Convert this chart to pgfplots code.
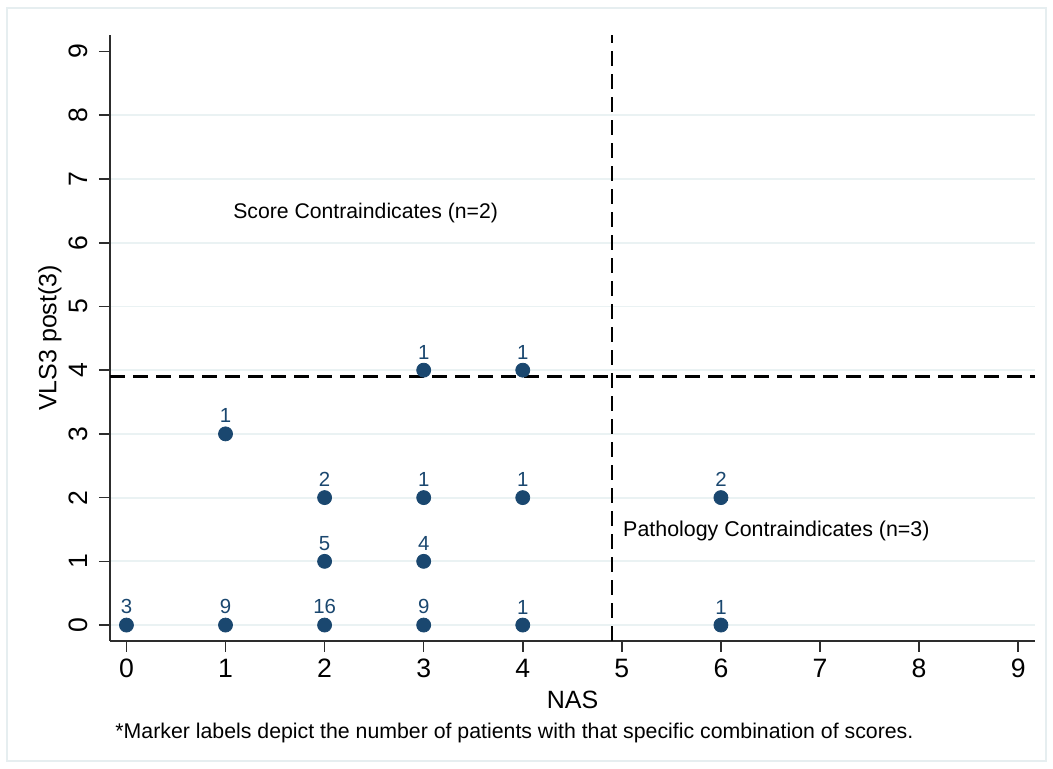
\documentclass[border=0pt]{standalone}
\usepackage{pgfplots}
\pgfplotsset{compat=1.18}
\usepackage{fontspec}
\setmainfont{Liberation Sans}
\definecolor{stata}{RGB}{26,71,111}
\definecolor{gridc}{RGB}{234,242,243}
\definecolor{framec}{RGB}{230,238,240}
\definecolor{axc}{RGB}{45,45,45}
\begin{document}
\begin{tikzpicture}
\useasboundingbox (-55pt,-64pt) rectangle (471.5pt,320.5pt);
\draw[framec, line width=0.6pt] (-51.5pt,-60pt) rectangle (468pt,316.5pt);
\begin{axis}[
 scale only axis, width=462.5pt, height=303pt,
 xmin=-0.166, xmax=9.17, ymin=-0.25, ymax=9.26,
 axis x line*=bottom, axis y line*=left,
 axis line style={axc, line width=1pt},
 xtick={0,...,9}, ytick={0,...,8},
 extra y ticks={9}, extra y tick style={grid=none},
 ymajorgrids, major grid style={gridc, line width=0.9pt},
 tick align=outside, major tick length=5.5pt,
 tick style={axc, line width=0.8pt},
 /pgf/number format/assume math mode=true,
 ticklabel style={font=\fontsize{13.3}{15}\selectfont, black},
 yticklabel style={rotate=90, anchor=south},
 yticklabel shift=2pt,
 xlabel={NAS}, ylabel={VLS3 post(3)},
 label style={font=\fontsize{12.5}{14}\selectfont},
 xlabel style={at={(axis description cs:0.5,-0.0974)}, anchor=center},
 ylabel style={at={(axis description cs:-0.0649,0.5)}, anchor=center},
 clip=false,
]
\addplot[black, line width=1.1pt, dash pattern=on 7.5pt off 4pt] coordinates {(4.9,-0.25) (4.9,9.26)};
\addplot[black, line width=1.1pt, dash pattern=on 7.5pt off 4pt] coordinates {(-0.166,3.9) (9.17,3.9)};
\addplot[only marks, mark=*, mark size=3.5pt, color=stata, mark options={fill=stata, draw=stata},
  nodes near coords, point meta=explicit symbolic,
  nodes near coords style={font=\fontsize{10.2}{12}\selectfont, text=stata, anchor=south, inner sep=0pt, yshift=5.3pt}]
  table[x=x, y=y, meta=n] {
x y n
0 0 3
1 0 9
2 0 16
3 0 9
4 0 1
6 0 1
2 1 5
3 1 4
2 2 2
3 2 1
4 2 1
6 2 2
1 3 1
3 4 1
4 4 1
};
\node[anchor=west, inner sep=0pt, font=\fontsize{10.6}{12}\selectfont] at (axis cs:1.075,6.47) {Score Contraindicates (n=2)};
\node[anchor=west, inner sep=0pt, font=\fontsize{10.7}{12}\selectfont] at (axis cs:5.01,1.48) {Pathology Contraindicates (n=3)};
\end{axis}
\node[anchor=west, inner sep=0pt, font=\fontsize{10.65}{12}\selectfont] at (2.5pt,-46pt) {*Marker labels depict the number of patients with that specific combination of scores.};
\end{tikzpicture}
\end{document}
